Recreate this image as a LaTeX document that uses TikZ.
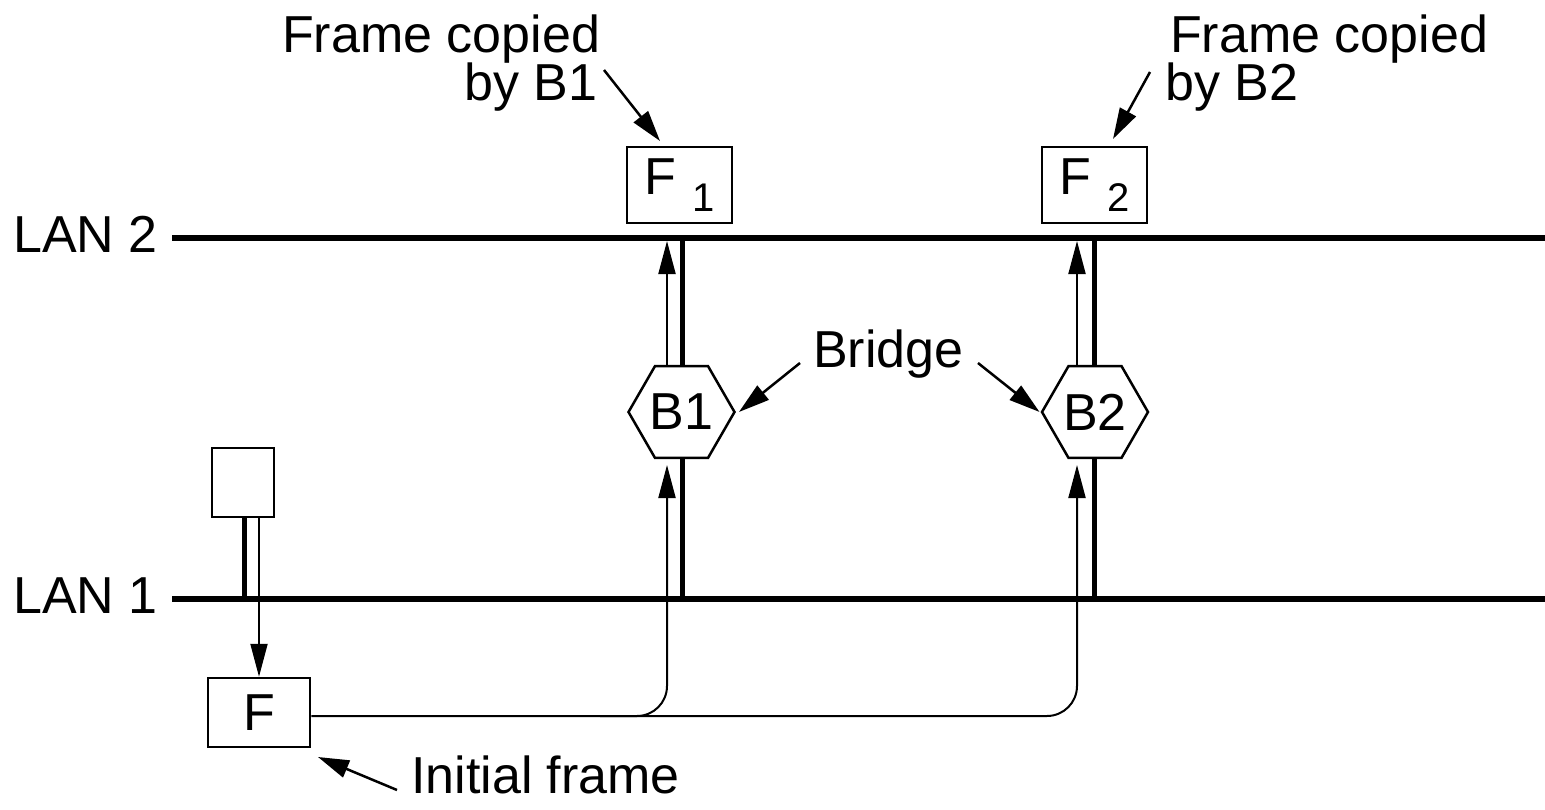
\documentclass[tikz,border=0pt]{standalone}
\usepackage{fontspec}
\setmainfont{Liberation Sans}
\usetikzlibrary{arrows.meta,shapes.geometric,backgrounds}
\begin{document}
\begin{tikzpicture}[x=1pt,y=-1pt,
  lbl/.style={font=\fontsize{52}{52}\selectfont, inner sep=0pt},
  framebox/.style={draw, line width=2.5pt, inner sep=0pt, fill=white, font=\fontsize{52}{52}\selectfont},
  bridge/.style={draw, line width=2.5pt, fill=white, regular polygon, regular polygon sides=6,
    minimum size=106pt, inner sep=0pt, font=\fontsize{52}{52}\selectfont},
  lan/.style={line width=5.5pt},
  tap/.style={line width=5pt},
  flow/.style={line width=2pt, -{Triangle[length=33pt,width=17pt]}},
  pointer/.style={line width=2.5pt, -{Triangle[length=31pt,width=18pt]}},
]
\useasboundingbox (0,0) rectangle (1545,809);

% LAN lines
\coordinate (lan2w) at (172,238); \coordinate (lan2e) at (1545,238);
\coordinate (lan1w) at (172,599); \coordinate (lan1e) at (1545,599);
\draw[lan] (lan2w) -- (lan2e);
\draw[lan] (lan1w) -- (lan1e);
\node[lbl, anchor=base west] (lan2lbl) at (13,252) {LAN 2};
\node[lbl, anchor=base west] (lan1lbl) at (13,613) {LAN 1};

% taps of the bridges
\coordinate (t1top) at (682,236); \coordinate (t1bot) at (682,601);
\coordinate (t2top) at (1094,236); \coordinate (t2bot) at (1094,601);
\draw[tap] (t1top) -- (t1bot);
\draw[tap] (t2top) -- (t2bot);

% station and its tap
\node[framebox, minimum width=62pt, minimum height=69pt] (stn) at (243,482.5) {};
\coordinate (stntap) at (244,518); \coordinate (stnlan) at (244,601);
\draw[tap] (stntap) -- (stnlan);

% frames
\node[framebox, minimum width=102pt, minimum height=69pt] (f0) at (259,712.5) {F};
\node[framebox, minimum width=105pt, minimum height=76pt] (f1) at (679.5,185)
  {F\hspace{16pt}\raisebox{-17pt}{\fontsize{40}{40}\selectfont 1}};
\node[framebox, minimum width=105pt, minimum height=76pt] (f2) at (1094.5,185)
  {F\hspace{16pt}\raisebox{-17pt}{\fontsize{40}{40}\selectfont 2}};

% bridges
\node[bridge] (b1) at (681.5,412) {B1};
\node[bridge] (b2) at (1095,412) {B2};

% frame flow
\coordinate (s1) at (259,517);
\draw[flow] (s1) -- (f0.north -| s1);
\coordinate (bottom2) at (1077,716);
\coordinate (in2) at (1077,465);
\coordinate (br1) at (600,716);
\coordinate (bottom1) at (667,716);
\coordinate (in1) at (667,465);
\draw[flow, rounded corners=30pt] ([yshift=-3.5pt]f0.east) -- (bottom2) -- (in2);
\draw[flow, rounded corners=30pt] (br1) -- (bottom1) -- (in1);
\coordinate (out1) at (667,366); \coordinate (up1) at (667,241);
\coordinate (out2) at (1077,366); \coordinate (up2) at (1077,241);
\draw[flow] (out1) -- (up1);
\draw[flow] (out2) -- (up2);

% labels
\node[lbl, anchor=base west] (cp1a) at (282,52) {Frame copied};
\node[lbl, anchor=base west] (cp1b) at (464,100) {by B1};
\node[lbl, anchor=base west] (cp2a) at (1170,52) {Frame copied};
\node[lbl, anchor=base west] (cp2b) at (1165,100) {by B2};
\node[lbl, anchor=base west] (brl) at (813,367) {Bridge};
\node[lbl, anchor=base west] (init) at (411,793) {Initial frame};

% pointers
\coordinate (p1) at (604,70); \coordinate (p1t) at (660,141);
\draw[pointer] (p1) -- (p1t);
\coordinate (p2) at (1150,72); \coordinate (p2t) at (1113,139);
\draw[pointer] (p2) -- (p2t);
\coordinate (p3) at (800,363);
\draw[pointer] (p3) -- ([xshift=3pt]b1.east);
\coordinate (p4) at (978,363);
\draw[pointer] (p4) -- ([xshift=-1pt]b2.west);
\coordinate (p5) at (397,790); \coordinate (p5t) at (318,757);
\draw[pointer] (p5) -- (p5t);
\end{tikzpicture}
\end{document}
